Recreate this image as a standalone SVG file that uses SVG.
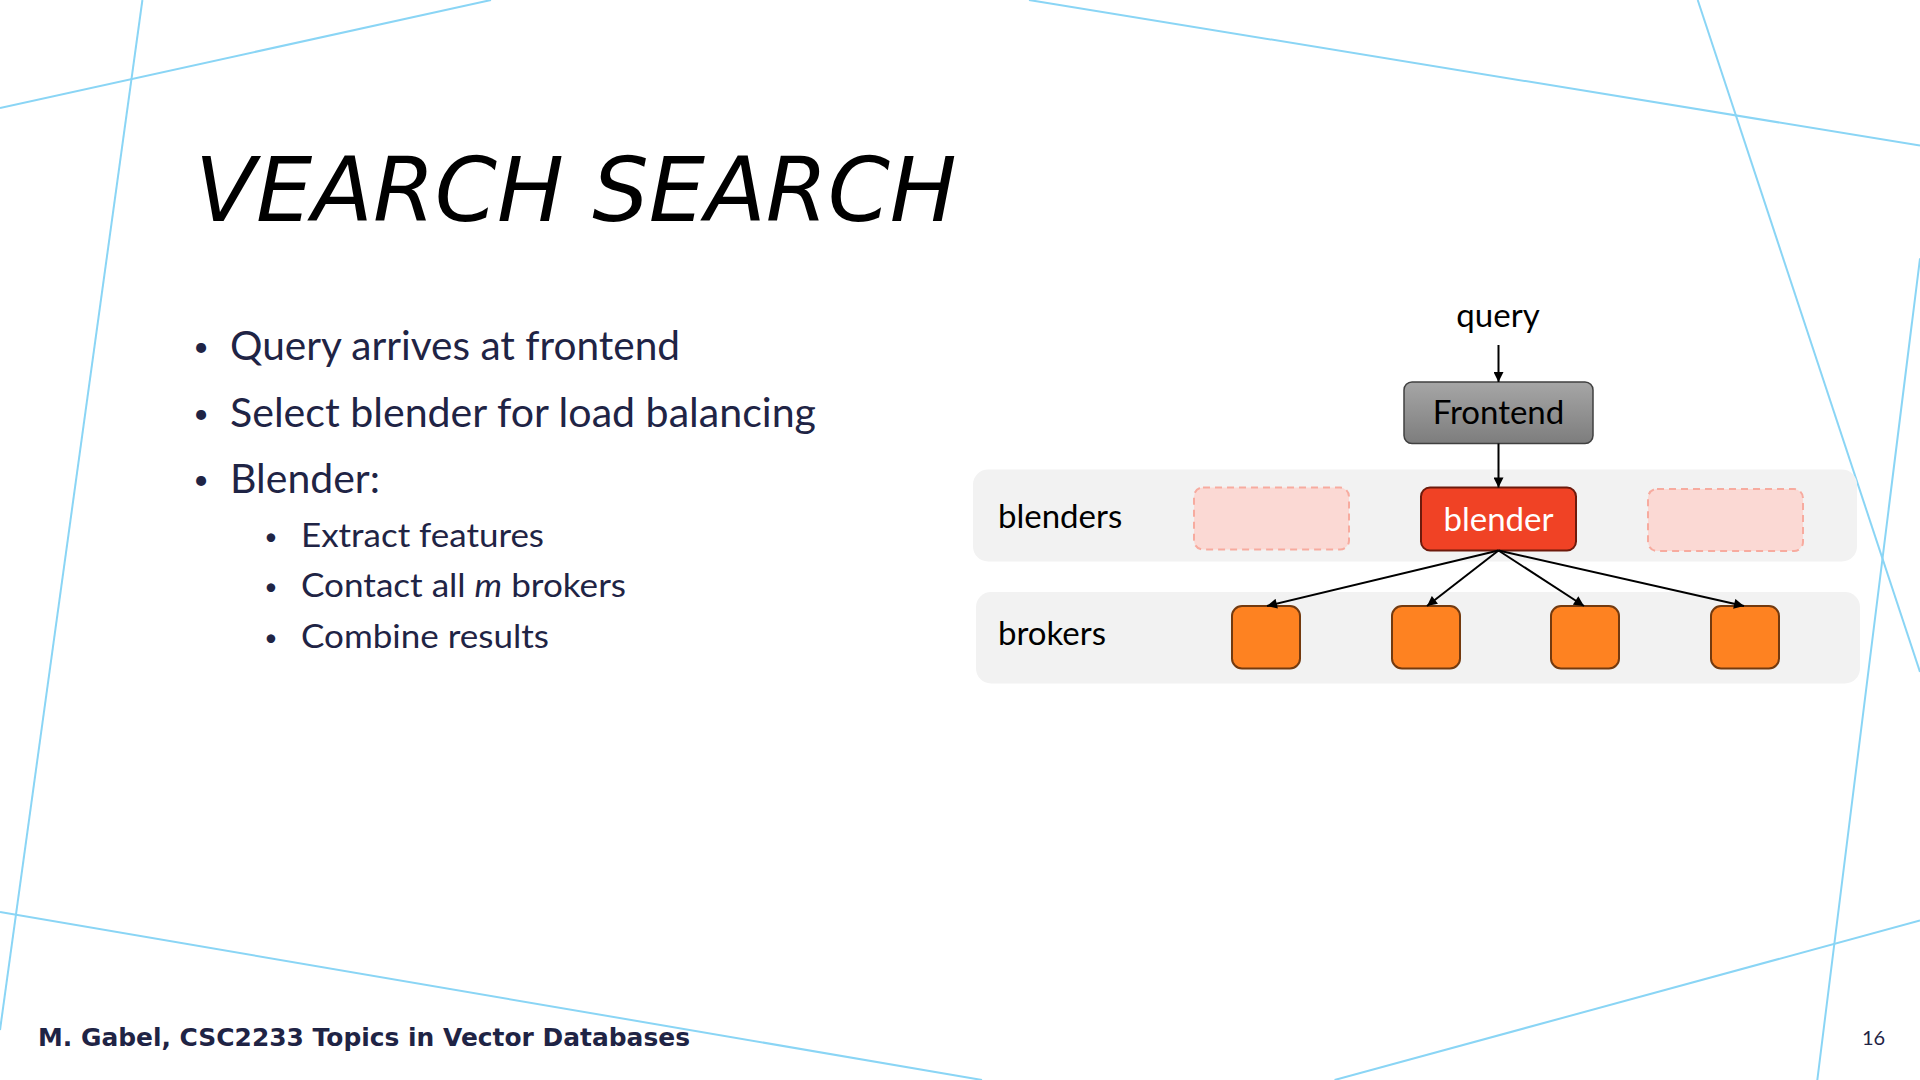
<svg xmlns="http://www.w3.org/2000/svg" width="1920" height="1080" viewBox="0 0 1920 1080">
  <defs>
    <style>
      .bg { stroke: #8ad5f5; stroke-width: 2; fill: none; }
      .body { font-family: Lato, "Open Sans", sans-serif; fill: #1f2445; }
      .l1 { font-size: 40px; }
      .l2 { font-size: 32px; }
      .b1 { font-size: 27px; text-anchor: middle; }
      .b2 { font-size: 23px; text-anchor: middle; }
      .lbl { font-family: Lato, "Open Sans", sans-serif; font-size: 33px; fill: #000; }
      .lane { fill: #f2f2f2; }
      .ghost { fill: #fbd9d4; stroke: #f7ab9f; stroke-width: 2; stroke-dasharray: 7 5; }
      .broker { fill: #fe8221; stroke: #733a0f; stroke-width: 2; }
      .conn { stroke: #000; stroke-width: 2; fill: none; marker-end: url(#arrow); }
    </style>
    <linearGradient id="gray" x1="0" y1="0" x2="0" y2="1">
      <stop offset="0" stop-color="#a6a6a6"/>
      <stop offset="1" stop-color="#7d7d7d"/>
    </linearGradient>
    <marker id="arrow" viewBox="0 0 10 10" refX="10" refY="5" markerWidth="5.5" markerHeight="5" markerUnits="strokeWidth" orient="auto">
      <path d="M0,0 L10,5 L0,10 Z" fill="#000"/>
    </marker>
  </defs>

  <rect x="0" y="0" width="1920" height="1080" fill="#ffffff"/>

  <g id="background-lines">
    <line class="bg" x1="0" y1="108" x2="491" y2="0"/>
    <line class="bg" x1="142.4" y1="0" x2="0" y2="1030"/>
    <line class="bg" x1="0" y1="912" x2="982" y2="1080"/>
    <line class="bg" x1="1029" y1="0" x2="1920" y2="145.5"/>
    <line class="bg" x1="1697.7" y1="0" x2="1920" y2="672"/>
    <line class="bg" x1="1920" y1="258.3" x2="1817.3" y2="1080"/>
    <line class="bg" x1="1334.6" y1="1080" x2="1920" y2="920.5"/>
  </g>

  <g id="title">
    <text x="195" y="221" font-family="'DejaVu Sans', sans-serif" font-style="italic" font-size="89" fill="#000">VEARCH SEARCH</text>
  </g>

  <g id="bullets" class="body">
    <text class="b1" x="201" y="356">•</text>
    <text class="l1" x="230" y="360" textLength="450" lengthAdjust="spacingAndGlyphs">Query arrives at frontend</text>
    <text class="b1" x="201" y="423">•</text>
    <text class="l1" x="230" y="427" textLength="586" lengthAdjust="spacingAndGlyphs">Select blender for load balancing</text>
    <text class="b1" x="201" y="489">•</text>
    <text class="l1" x="230" y="493" textLength="150" lengthAdjust="spacingAndGlyphs">Blender:</text>
    <text class="b2" x="271" y="544.5">•</text>
    <text class="l2" x="301" y="547" textLength="243" lengthAdjust="spacingAndGlyphs">Extract features</text>
    <text class="b2" x="271" y="594.5">•</text>
    <text class="l2" x="301" y="597" textLength="325" lengthAdjust="spacingAndGlyphs">Contact all <tspan font-style="italic">m</tspan> brokers</text>
    <text class="b2" x="271" y="645.5">•</text>
    <text class="l2" x="301" y="648" textLength="248" lengthAdjust="spacingAndGlyphs">Combine results</text>
  </g>

  <g id="lane-blenders">
    <rect class="lane" x="973" y="469.5" width="884" height="92" rx="15"/>
    <text class="lbl" x="998" y="528">blenders</text>
  </g>
  <g id="lane-brokers">
    <rect class="lane" x="976" y="592" width="884" height="91.5" rx="15"/>
    <text class="lbl" x="998" y="645">brokers</text>
  </g>

  <g id="query">
    <text class="lbl" x="1498" y="327" text-anchor="middle">query</text>
  </g>

  <g id="frontend">
    <rect x="1404" y="382" width="189" height="61.5" rx="8" fill="url(#gray)" stroke="#404040" stroke-width="1.5"/>
    <text class="lbl" x="1498.5" y="424" text-anchor="middle">Frontend</text>
  </g>

  <g id="blender-ghost-left">
    <rect class="ghost" x="1194" y="487.5" width="155" height="62" rx="9"/>
  </g>
  <g id="blender">
    <rect x="1421" y="487.5" width="155" height="63" rx="9" fill="#f04225" stroke="#6d1a0c" stroke-width="2"/>
    <text class="lbl" x="1498.5" y="531" text-anchor="middle" style="fill:#ffffff">blender</text>
  </g>
  <g id="blender-ghost-right">
    <rect class="ghost" x="1648" y="489" width="155" height="62" rx="9"/>
  </g>

  <g id="broker-1"><rect class="broker" x="1232" y="606" width="68" height="62.5" rx="10"/></g>
  <g id="broker-2"><rect class="broker" x="1392" y="606" width="68" height="62.5" rx="10"/></g>
  <g id="broker-3"><rect class="broker" x="1551" y="606" width="68" height="62.5" rx="10"/></g>
  <g id="broker-4"><rect class="broker" x="1711" y="606" width="68" height="62.5" rx="10"/></g>

  <g id="connectors">
    <line class="conn" x1="1498.5" y1="345" x2="1498.5" y2="382"/>
    <line class="conn" x1="1498.5" y1="443.5" x2="1498.5" y2="487.5"/>
    <line class="conn" x1="1498.5" y1="550.5" x2="1267" y2="606"/>
    <line class="conn" x1="1498.5" y1="550.5" x2="1427" y2="606"/>
    <line class="conn" x1="1498.5" y1="550.5" x2="1584" y2="606"/>
    <line class="conn" x1="1498.5" y1="550.5" x2="1744" y2="606"/>
  </g>

  <g id="footer">
    <text x="38" y="1045.5" font-family="'DejaVu Sans', sans-serif" font-weight="bold" font-size="24" fill="#1f2445" textLength="652" lengthAdjust="spacingAndGlyphs">M. Gabel, CSC2233 Topics in Vector Databases</text>
    <text x="1862" y="1045" font-family="Lato, sans-serif" font-size="20" fill="#1f2445">16</text>
  </g>
</svg>
